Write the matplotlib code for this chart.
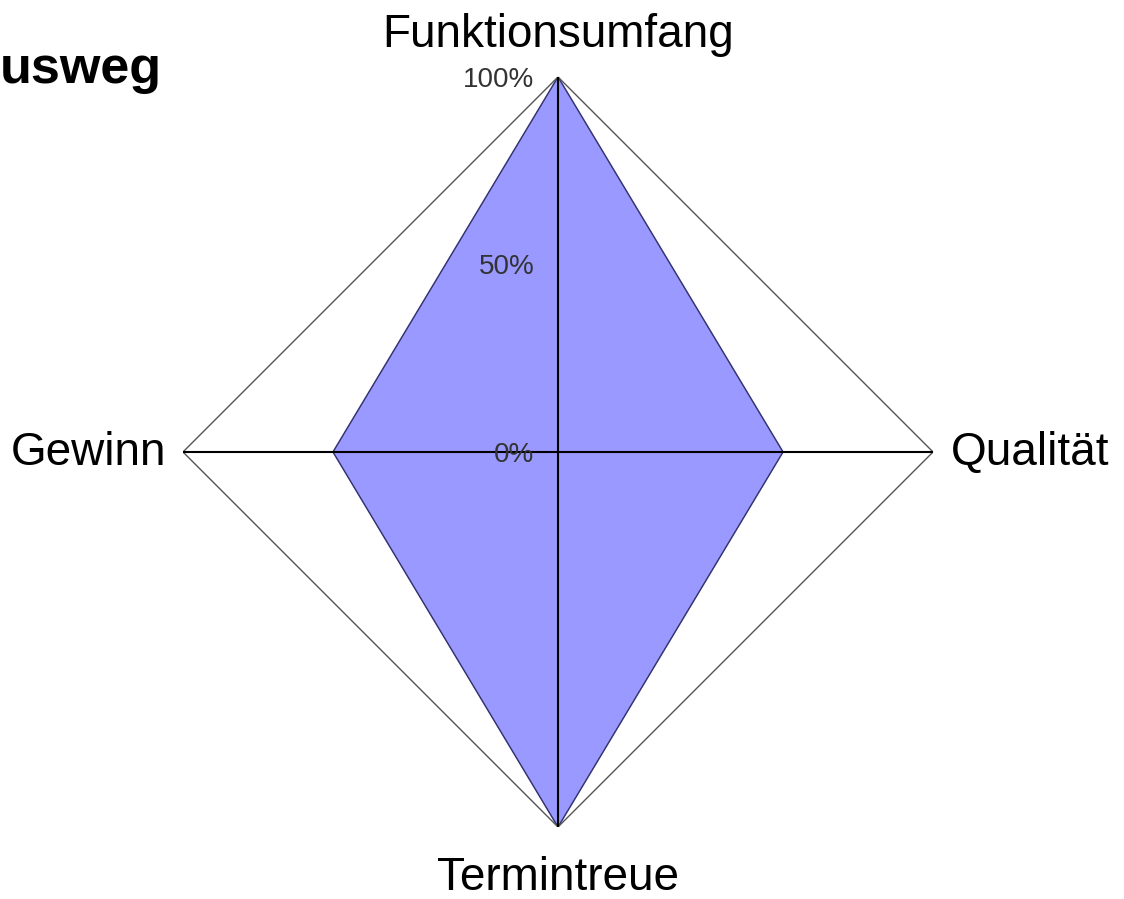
import numpy as np
import matplotlib.pyplot as plt

plt.rcParams['font.family'] = ['Liberation Sans', 'DejaVu Sans']

# data
categories = ["Funktionsumfang", "Qualität", "Termintreue", "Gewinn"]
values = [1.0, 0.6, 1.0, 0.6]
grid_levels = [0.0, 0.5, 1.0]
grid_labels = ["0%", "50%", "100%"]
title = "usweg"  # only the visible part of the title

n = len(categories)
angles = np.linspace(0, 2 * np.pi, n, endpoint=False)

fig = plt.figure(figsize=(11.24, 8.99), dpi=100)
ax = fig.add_axes([0.1628, 0.0801, 0.6673, 0.8343], projection="polar")
ax.set_theta_offset(np.pi / 2)
ax.set_theta_direction(-1)
ax.set_ylim(0, 1)
ax.grid(False)
ax.spines["polar"].set_visible(False)
ax.set_xticks([])
ax.set_yticks([])
ax.patch.set_alpha(0)

# filled series
a_closed = np.append(angles, angles[0])
v_closed = np.append(values, values[0])
ax.fill(a_closed, v_closed, color="#9999ff", zorder=1)
ax.plot(a_closed, v_closed, color="#333366", lw=1.0, zorder=2)

# outer grid polygon
outer = np.full(n + 1, grid_levels[-1])
ax.plot(a_closed, outer, color="#555555", lw=1.0, zorder=2)

# spokes
for a in angles:
    ax.plot([a, a], [0, grid_levels[-1]], color="black", lw=1.5, zorder=3)

# radial labels along the top spoke
for r, lab in zip(grid_levels, grid_labels):
    ax.annotate(lab, xy=(0, r), xytext=(-17, -2), textcoords="offset points",
                ha="right", va="center", fontsize=20, color="#333333", zorder=4)

# category labels
offsets = [(0, 30), (13, -1), (0, -37), (-12, -1)]
aligns = [("center", "center"), ("left", "center"), ("center", "center"), ("right", "center")]
for a, lab, off, (ha, va) in zip(angles, categories, offsets, aligns):
    ax.annotate(lab, xy=(a, 1.0), xytext=off, textcoords="offset points",
                ha=ha, va=va, fontsize=33, color="black", annotation_clip=False)

fig.text(0.0, 1 - 70 / 899, title, ha="left", va="center",
         fontsize=37.5, fontweight="bold")

fig.savefig("out.png", dpi=100)
